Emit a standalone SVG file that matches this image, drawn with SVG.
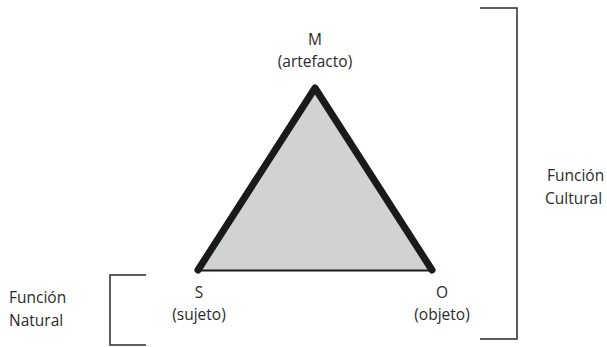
<svg xmlns="http://www.w3.org/2000/svg" width="607" height="347" viewBox="0 0 607 347">
<style>
text{font-family:"Open Sans","Liberation Sans",sans-serif;font-size:15.5px;fill:#2a2a2a}
.c{text-anchor:middle}
.br{fill:none;stroke:#2a2a2a;stroke-width:1.5}
</style>
<rect width="607" height="347" fill="#fff"/>
<g id="triangle">
<polygon points="315,88 198,270 432,270" fill="#d1d2d4"/>
<line x1="198" y1="270.5" x2="432" y2="270.5" stroke="#1a1a1a" stroke-width="2"/>
<polyline points="198,270 315,88 432,270" fill="none" stroke="#1a1a1a" stroke-width="7" stroke-linejoin="round" stroke-linecap="round"/>
</g>
<g id="M"><text class="c" x="315" y="45">M</text><text class="c" x="315" y="67">(artefacto)</text></g>
<g id="S"><text class="c" x="199" y="298">S</text><text class="c" x="199" y="320">(sujeto)</text></g>
<g id="O"><text class="c" x="442" y="298">O</text><text class="c" x="442" y="320">(objeto)</text></g>
<g id="natural">
<polyline class="br" points="146,275 110,275 110,345 146,345"/>
<text x="9" y="303">Función</text><text x="9" y="326">Natural</text>
</g>
<g id="cultural">
<polyline class="br" points="480,8 517,8 517,339 480,339"/>
<text x="547" y="181">Función</text><text x="545" y="204">Cultural</text>
</g>
</svg>
